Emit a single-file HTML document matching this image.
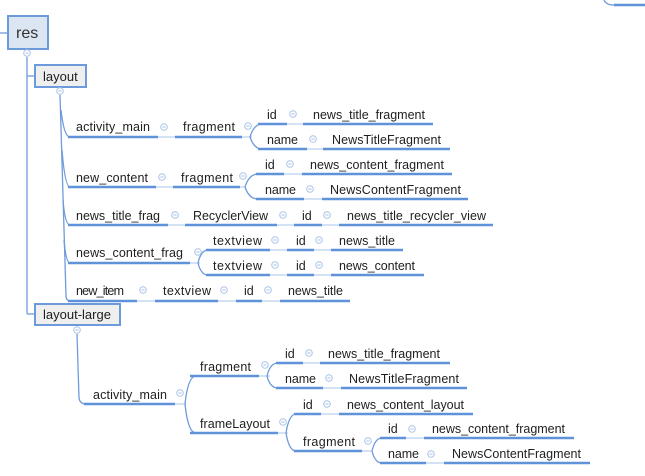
<!DOCTYPE html>
<html><head><meta charset="utf-8"><style>
html,body{margin:0;padding:0;background:#fff;width:645px;height:476px;overflow:hidden}
svg{display:block}
text{font-family:"Liberation Sans","DejaVu Sans",sans-serif;font-size:12.5px;fill:#1e1e1e}
.u{stroke:#5f92d8;stroke-width:2.4;fill:none}
.t{stroke:#a8c4ec;stroke-width:1;fill:none}
.c{stroke:#6f9bdc;stroke-width:1.3;fill:none}
.o{fill:#fff;stroke:#a9c3e8;stroke-width:1}
.m{stroke:#a9c3e8;stroke-width:1}
</style></head><body>
<svg width="645" height="476" viewBox="0 0 645 476" xmlns="http://www.w3.org/2000/svg">
<defs>
<g id="ci"><circle r="3.3" class="o"/><line x1="-1.7" y1="0" x2="1.7" y2="0" class="m"/></g>
</defs>
<!-- top right fragment -->
<path class="c" d="M604,0 Q606,5 614,5 L645,5"/>
<path class="u" d="M614,5 L645,5"/>

<!-- res root -->
<line x1="0" y1="33" x2="8" y2="33" class="c"/>
<rect x="8" y="16" width="40" height="33" fill="#dce6f3" stroke="#6c9bdc" stroke-width="2"/>
<text x="16" y="38" style="font-size:16px;fill:#333">res</text>
<line x1="27" y1="57" x2="27" y2="314" class="c"/>
<line x1="27" y1="76" x2="35" y2="76" class="c"/>
<line x1="27" y1="314" x2="35" y2="314" class="c"/>
<use href="#ci" x="27" y="53"/>

<!-- layout -->
<rect x="35" y="65" width="51" height="22" fill="#efefef" stroke="#6c9bdc" stroke-width="2"/>
<text x="43" y="81" style="font-size:13px">layout</text>
<use href="#ci" x="60" y="91"/>
<path class="c" d="M60,95 L66,296 Q66,301 71,301"/>
<path class="c" d="M61,110 Q64,137 70,137"/>
<path class="c" d="M62,150 Q65,187 70,187"/>
<path class="c" d="M63,200 Q65,225 70,225"/>
<path class="c" d="M64,240 Q66,263 70,263"/>

<!-- layout-large -->
<rect x="35" y="304" width="85" height="21" fill="#efefef" stroke="#6c9bdc" stroke-width="2"/>
<text x="43" y="319" style="font-size:13px">layout-large</text>
<use href="#ci" x="77" y="330"/>
<path class="c" d="M77,334 L79,398 Q80,404 86,404"/>

<!-- row1 activity_main -->
<line x1="68" y1="137" x2="252" y2="137" class="t"/>
<path class="u" d="M68,137H158 M175,137H242"/>
<text x="76" y="131" textLength="74">activity_main</text><use href="#ci" x="164" y="127"/>
<text x="183" y="131" textLength="52">fragment</text><use href="#ci" x="248" y="126"/>
<path class="c" d="M250,137 Q254,124 262,124 M250,137 Q254,149 262,149"/>
<line x1="258" y1="124" x2="433" y2="124" class="t"/>
<path class="u" d="M258,124H287 M303,124H433"/>
<text x="267" y="119">id</text><use href="#ci" x="293" y="114"/>
<text x="313" y="119" textLength="112">news_title_fragment</text>
<line x1="258" y1="149" x2="450" y2="149" class="t"/>
<path class="u" d="M258,149H307 M323,149H450"/>
<text x="267" y="144" textLength="31">name</text><use href="#ci" x="313" y="139"/>
<text x="332" y="144" textLength="109">NewsTitleFragment</text>

<!-- row2 new_content -->
<line x1="68" y1="187" x2="246" y2="187" class="t"/>
<path class="u" d="M68,187H156 M173,187H240"/>
<text x="76" y="182" textLength="72">new_content</text><use href="#ci" x="162" y="177"/>
<text x="181" y="182" textLength="52">fragment</text><use href="#ci" x="243" y="176"/>
<path class="c" d="M245,187 Q249,174 258,174 M245,187 Q249,199 258,199"/>
<line x1="256" y1="174" x2="452" y2="174" class="t"/>
<path class="u" d="M256,174H284 M302,174H452"/>
<text x="265" y="169">id</text><use href="#ci" x="290" y="164"/>
<text x="310" y="169" textLength="134">news_content_fragment</text>
<line x1="256" y1="199" x2="468" y2="199" class="t"/>
<path class="u" d="M256,199H304 M322,199H468"/>
<text x="265" y="194" textLength="31">name</text><use href="#ci" x="310" y="189"/>
<text x="330" y="194" textLength="131">NewsContentFragment</text>

<!-- row3 news_title_frag -->
<line x1="68" y1="225" x2="493" y2="225" class="t"/>
<path class="u" d="M68,225H168 M185,225H277 M294,225H322 M339,225H493"/>
<text x="76" y="220" textLength="84">news_title_frag</text><use href="#ci" x="175" y="215"/>
<text x="193" y="220" textLength="75">RecyclerView</text><use href="#ci" x="283" y="215"/>
<text x="302" y="220">id</text><use href="#ci" x="327" y="215"/>
<text x="347" y="220" textLength="139">news_title_recycler_view</text>

<!-- row4 news_content_frag -->
<line x1="68" y1="263" x2="200" y2="263" class="t"/>
<path class="u" d="M68,263H190"/>
<text x="76" y="257" textLength="107">news_content_frag</text><use href="#ci" x="198" y="252"/>
<path class="c" d="M198,263 Q201,250 208,250 M198,263 Q201,275 208,275"/>
<line x1="206" y1="250" x2="403" y2="250" class="t"/>
<path class="u" d="M206,250H270 M287,250H314 M331,250H403"/>
<text x="213" y="245" textLength="49">textview</text><use href="#ci" x="275" y="240"/>
<text x="296" y="245">id</text><use href="#ci" x="319" y="240"/>
<text x="339" y="245" textLength="56">news_title</text>
<line x1="206" y1="275" x2="424" y2="275" class="t"/>
<path class="u" d="M206,275H270 M287,275H314 M331,275H424"/>
<text x="213" y="270" textLength="49">textview</text><use href="#ci" x="275" y="265"/>
<text x="296" y="270">id</text><use href="#ci" x="319" y="265"/>
<text x="339" y="270" textLength="76">news_content</text>

<!-- row5 new_item -->
<line x1="68" y1="301" x2="350" y2="301" class="t"/>
<path class="u" d="M68,301H137 M155,301H218 M236,301H262 M280,301H350"/>
<text x="76" y="295" textLength="48">new_item</text><use href="#ci" x="143" y="290"/>
<text x="163" y="295" textLength="48">textview</text><use href="#ci" x="224" y="290"/>
<text x="244" y="295">id</text><use href="#ci" x="268" y="290"/>
<text x="288" y="295" textLength="55">news_title</text>

<!-- layout-large activity_main -->
<line x1="84" y1="404" x2="186" y2="404" class="t"/>
<path class="u" d="M84,404H175"/>
<text x="93" y="399" textLength="74">activity_main</text><use href="#ci" x="180" y="393"/>
<path class="c" d="M185,404 Q188,376 196,376 M185,404 Q188,433 196,433"/>
<line x1="190" y1="376" x2="270" y2="376" class="t"/>
<path class="u" d="M190,376H259"/>
<text x="200" y="371" textLength="51">fragment</text><use href="#ci" x="265" y="365"/>
<path class="c" d="M267,376 Q270,363 278,363 M267,376 Q270,388 278,388"/>
<line x1="276" y1="363" x2="450" y2="363" class="t"/>
<path class="u" d="M276,363H303 M320,363H450"/>
<text x="285" y="358">id</text><use href="#ci" x="309" y="353"/>
<text x="328" y="358" textLength="112">news_title_fragment</text>
<line x1="276" y1="388" x2="467" y2="388" class="t"/>
<path class="u" d="M276,388H323 M341,388H467"/>
<text x="285" y="383" textLength="31">name</text><use href="#ci" x="329" y="378"/>
<text x="349" y="383" textLength="110">NewsTitleFragment</text>

<line x1="190" y1="433" x2="288" y2="433" class="t"/>
<path class="u" d="M190,433H278"/>
<text x="200" y="428" textLength="70">frameLayout</text><use href="#ci" x="283" y="422"/>
<path class="c" d="M286,433 Q289,414 296,414 M286,433 Q289,451 296,451"/>
<line x1="294" y1="414" x2="473" y2="414" class="t"/>
<path class="u" d="M294,414H321 M339,414H473"/>
<text x="303" y="409">id</text><use href="#ci" x="327" y="404"/>
<text x="347" y="409" textLength="117">news_content_layout</text>
<line x1="294" y1="451" x2="372" y2="451" class="t"/>
<path class="u" d="M294,451H362"/>
<text x="303" y="446" textLength="52">fragment</text><use href="#ci" x="368" y="441"/>
<path class="c" d="M372,451 Q375,438 382,438 M372,451 Q375,463 382,463"/>
<line x1="380" y1="438" x2="574" y2="438" class="t"/>
<path class="u" d="M380,438H406 M424,438H574"/>
<text x="388" y="433">id</text><use href="#ci" x="412" y="429"/>
<text x="432" y="433" textLength="133">news_content_fragment</text>
<line x1="380" y1="463" x2="590" y2="463" class="t"/>
<path class="u" d="M380,463H426 M444,463H590"/>
<text x="388" y="458" textLength="31">name</text><use href="#ci" x="431" y="454"/>
<text x="452" y="458" textLength="129">NewsContentFragment</text>
</svg>
</body></html>
